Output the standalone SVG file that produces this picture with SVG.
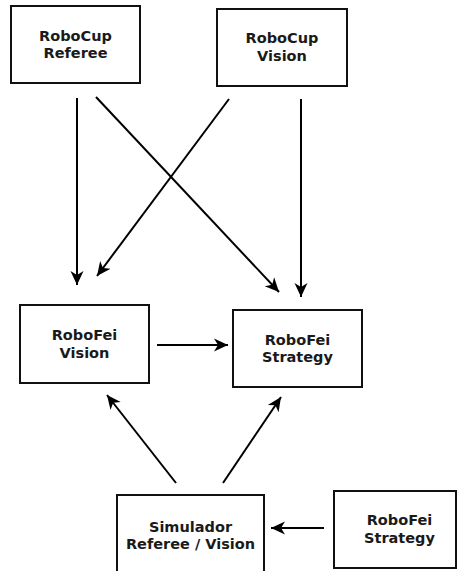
<svg xmlns="http://www.w3.org/2000/svg" width="457" height="571" viewBox="0 0 457 571">
<style>
.box{fill:#fff;stroke:#111;stroke-width:2}
.lbl{font-family:"DejaVu Sans","Liberation Sans",sans-serif;font-weight:bold;font-size:14.5px;fill:#1a1a1a;text-anchor:middle}
.con{stroke:#000;stroke-width:2;fill:none;marker-end:url(#ah)}
</style>
<defs>
<marker id="ah" markerUnits="userSpaceOnUse" markerWidth="16" markerHeight="16" viewBox="0 -8 16 16" refX="14" refY="0" orient="auto">
<path d="M0,-6.5 L14,0 L0,6.5 L4,0 z" fill="#000"/>
</marker>
</defs>
<rect width="457" height="571" fill="#fff"/>
<g id="connectors">
<line class="con" x1="77" y1="98" x2="77" y2="285"/>
<line class="con" x1="96" y1="97" x2="279" y2="292"/>
<line class="con" x1="229" y1="99" x2="97" y2="276"/>
<line class="con" x1="301" y1="99" x2="301" y2="297"/>
<line class="con" x1="157" y1="345" x2="228" y2="345"/>
<line class="con" x1="176" y1="483" x2="107" y2="395"/>
<line class="con" x1="223" y1="483" x2="281" y2="397"/>
<line class="con" x1="324" y1="528" x2="271" y2="528"/>
</g>
<g id="robocup-referee">
<rect class="box" x="11" y="6" width="129" height="77"/>
<text class="lbl" x="75.5" y="41">RoboCup</text>
<text class="lbl" x="75.5" y="58">Referee</text>
</g>
<g id="robocup-vision">
<rect class="box" x="217" y="9" width="130" height="77"/>
<text class="lbl" x="282" y="43">RoboCup</text>
<text class="lbl" x="282" y="61">Vision</text>
</g>
<g id="robofei-vision">
<rect class="box" x="20" y="305" width="129" height="78"/>
<text class="lbl" x="84.5" y="340">RoboFei</text>
<text class="lbl" x="84.5" y="358">Vision</text>
</g>
<g id="robofei-strategy">
<rect class="box" x="233" y="310" width="129" height="77"/>
<text class="lbl" x="297.5" y="345">RoboFei</text>
<text class="lbl" x="297.5" y="362">Strategy</text>
</g>
<g id="simulador">
<rect class="box" x="117" y="495" width="147" height="82"/>
<text class="lbl" x="190.5" y="532">Simulador</text>
<text class="lbl" x="190.5" y="549">Referee / Vision</text>
</g>
<g id="robofei-strategy-2">
<rect class="box" x="334" y="491" width="122" height="77"/>
<text class="lbl" x="399.5" y="525">RoboFei</text>
<text class="lbl" x="399.5" y="543">Strategy</text>
</g>
</svg>
